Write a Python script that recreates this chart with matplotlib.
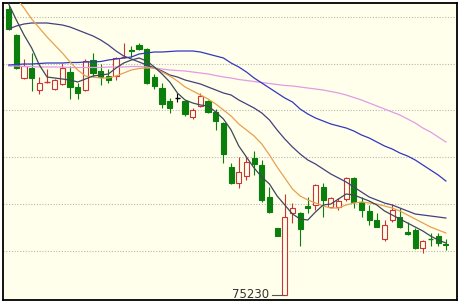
import matplotlib
matplotlib.use("Agg")
import matplotlib.pyplot as plt
import numpy as np

# ---- data ----
open_ = [78090,77830,77400,77500,77280,77360,77290,77340,77460,77310,77280,77580,77470,77420,77420,77610,77685,77730,77690,77410,
         77300,77170,77205,77170,77010,77120,77170,77060,76950,76510,76350,76420,76600,76530,76210,75900,75230,76050,76050,76120,
         76130,76310,76110,76110,76190,76400,76160,76070,75980,75790,75980,76010,75860,75880,75700,75800,75820,75745]
high = [78130,77840,77590,77650,77410,77490,77390,77550,77520,77350,77590,77650,77540,77490,77610,77750,77720,77750,77700,77440,
        77350,77200,77250,77180,77100,77250,77180,77090,76960,76550,76610,76610,76670,76580,76310,75900,76240,76150,76060,76210,
        76340,76350,76210,76200,76410,76410,76210,76130,76050,75980,76140,76100,75960,75900,75780,75850,75850,75790]
low = [77880,77490,77390,77270,77240,77350,77280,77330,77190,77190,77270,77410,77330,77350,77380,77600,77610,77680,77340,77290,
       77100,77050,77160,77020,76990,77110,77050,76880,76550,76340,76300,76380,76430,76160,76050,75820,75230,75950,75720,76050,
       76080,76010,76100,76080,76170,76100,76010,75930,75910,75770,75960,75900,75830,75690,75650,75720,75720,75680]
close = [77890,77500,77520,77400,77350,77370,77380,77500,77310,77250,77570,77450,77410,77380,77600,77620,77670,77690,77350,77320,
         77140,77100,77205,77040,77080,77220,77060,76970,76640,76350,76460,76560,76540,76180,76060,75820,76010,76100,75890,76100,
         76330,76180,76200,76170,76400,76160,76080,75980,75915,75930,76080,75910,75840,75700,75770,75790,75750,75730]

ma5 = [78140,77980,77830,77700,77530,77410,77400,77390,77380,77360,77390,77420,77430,77440,77500,77550,77580,77600,77570,77510,
       77440,77360,77250,77180,77150,77130,77120,77060,76990,76880,76720,76610,76500,76410,76340,76220,76130,76040,75990,75980,
       76060,76130,76140,76190,76240,76230,76200,76170,76130,76070,76030,75990,75950,75910,75870,75820,75780,75750]
ma10 = [78300,78200,78100,77990,77900,77810,77730,77650,77560,77480,77420,77410,77400,77400,77420,77450,77480,77495,77500,77500,
        77460,77420,77370,77310,77270,77230,77190,77140,77080,77020,76940,76880,76820,76740,76630,76510,76400,76290,76220,76180,
        76150,76120,76100,76100,76130,76150,76160,76150,76140,76120,76100,76070,76030,75990,75950,75910,75880,75850]
ma20 = [77890,77920,77940,77950,77950,77950,77940,77930,77910,77880,77850,77820,77780,77730,77670,77620,77590,77560,77530,77500,
        77470,77430,77410,77380,77360,77340,77310,77280,77250,77230,77180,77140,77100,77050,76980,76880,76790,76710,76640,76580,
        76540,76490,76440,76400,76360,76310,76260,76210,76180,76150,76130,76100,76070,76040,76030,76020,76010,76000]
ma40 = [77530,77535,77540,77540,77545,77550,77550,77550,77555,77555,77560,77560,77565,77580,77590,77600,77610,77640,77650,77660,
        77660,77665,77670,77670,77670,77660,77640,77620,77600,77550,77510,77460,77400,77350,77300,77250,77200,77160,77090,77040,
        77000,76970,76940,76920,76900,76870,76830,76800,76760,76720,76690,76650,76620,76580,76530,76480,76430,76370]
ma60 = [77520,77520,77515,77515,77510,77510,77510,77510,77505,77505,77505,77505,77505,77510,77510,77510,77515,77515,77510,77500,
        77490,77480,77475,77470,77460,77450,77440,77425,77410,77400,77385,77375,77365,77355,77345,77335,77325,77320,77310,77300,
        77290,77280,77265,77250,77230,77205,77180,77150,77120,77090,77060,77030,76990,76950,76900,76860,76810,76760]

# ---- styling ----
BG = '#FFFFEC'
RED = '#CC3333'
GREEN = '#0B7F0B'

fig = plt.figure(figsize=(4.6, 3.06), dpi=100, facecolor='white')
ax = fig.add_axes([3/460, 6/306, 454/460, 297/306])
ax.set_facecolor(BG)

x = np.arange(len(close))
o = np.array(open_); h = np.array(high); l = np.array(low); c = np.array(close)

for y in [78010, 77545, 77080, 76610, 76140, 75670]:
    ax.axhline(y, color='#b8b8b0', lw=0.8, ls=(0, (1, 1.5)), zorder=1)

w = 0.68
for i in range(len(c)):
    if c[i] > o[i]:
        col, fc = RED, BG
    elif c[i] < o[i]:
        col, fc = GREEN, GREEN
    else:
        col, fc = 'black', 'black'
    ax.vlines(i, l[i], h[i], color=col, lw=0.8, zorder=2)
    lo, hi = min(o[i], c[i]), max(o[i], c[i])
    if hi - lo < 12:
        ax.hlines((o[i] + c[i]) / 2, i - w/2, i + w/2, color=col, lw=1.0, zorder=2.5)
    else:
        ax.bar(i, hi - lo, bottom=lo, width=w, facecolor=fc, edgecolor=col,
               linewidth=0.8, zorder=2.5)

ax.plot(x, ma60, color='#E49AE4', lw=0.9, zorder=3)
ax.plot(x, ma40, color='#3238C0', lw=0.9, zorder=3)
ax.plot(x, ma20, color='#44407E', lw=0.9, zorder=3)
ax.plot(x, ma10, color='#E8A050', lw=0.9, zorder=3)
ax.plot(x, ma5, color='#3E4858', lw=0.9, zorder=3)

imin = int(np.argmin(l))
ax.plot([imin - 1.7, imin - 0.15], [l[imin], l[imin]], color='#555555', lw=0.8, zorder=4)
ax.text(imin - 2.08, l[imin] + 10, f"{int(l[imin])}", ha='right', va='center',
        fontsize=8.5, color='#333333', zorder=4, clip_on=False)

ax.set_xlim(-0.74, 58.45)
ax.set_ylim(75180, 78150)
ax.set_xticks([]); ax.set_yticks([])
for s in ax.spines.values():
    s.set_color('black'); s.set_linewidth(1.3)

fig.savefig('out.png', dpi=100, facecolor=fig.get_facecolor())
